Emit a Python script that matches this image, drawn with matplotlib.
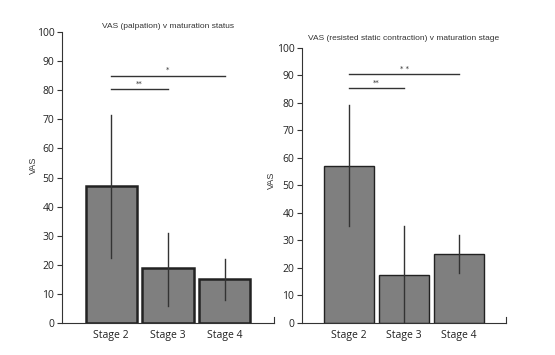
import matplotlib
matplotlib.use("Agg")
import matplotlib.pyplot as plt

categories = ["Stage 2", "Stage 3", "Stage 4"]

# Left panel: VAS (palpation)
left_means = [47, 19, 15]
left_low = [22.5, 6, 8]
left_high = [71.5, 31, 22]
left_sig = [(0, 1, 80.5, "**"), (0, 2, 85, "*")]

# Right panel: VAS (resisted static contraction)
right_means = [57, 17.5, 25]
right_low = [35, 0, 18]
right_high = [79, 35, 32]
right_sig = [(0, 1, 85.5, "**"), (0, 2, 90.3, "* *")]

yticks = list(range(0, 101, 10))

fig = plt.figure(figsize=(5.55, 3.55), dpi=100)
fig.patch.set_facecolor("white")

tick_font = "Open Sans"
title_font = ["Liberation Sans Narrow", "Liberation Sans", "DejaVu Sans"]


def panel(rect, means, low, high, sig, title, width, lw, title_y, label_xy):
    ax = fig.add_axes(rect)
    x = list(range(len(categories)))
    ax.bar(x, means, width=width, color="#7f7f7f", edgecolor="#222222",
           linewidth=lw, zorder=2)
    for xi, lo, hi in zip(x, low, high):
        ax.plot([xi, xi], [lo, hi], color="#333333", lw=1.0, zorder=3)
    for a, b, yv, txt in sig:
        ax.plot([a, b], [yv, yv], color="#333333", lw=1.0, clip_on=False)
        ax.text((a + b) / 2, yv + 1.2, txt, ha="center", va="baseline",
                fontsize=5, color="#333333", family="DejaVu Sans")
    ax.set_xlim(-0.86, 2.86)
    ax.set_ylim(0, 100)
    ax.set_yticks(yticks)
    ax.set_yticklabels([str(t) for t in yticks], family=tick_font, fontsize=7.5,
                       color="#222222")
    ax.set_xticks(x)
    ax.set_xticklabels(categories, family=tick_font, fontsize=7.5, color="#222222")
    ax.tick_params(axis="x", length=0, pad=5)
    ax.tick_params(axis="y", length=3.5, width=0.8, direction="out", pad=2,
                   color="#333333")
    ax.spines["top"].set_visible(False)
    ax.spines["right"].set_bounds(0, 2)
    for s in ax.spines.values():
        s.set_linewidth(0.8)
        s.set_color("#333333")
    ax.set_ylabel("VAS", family=title_font, fontsize=6.5, color="#333333")
    ax.yaxis.set_label_coords(*label_xy)
    ax.text(0.5 * (ax.get_xlim()[0] + ax.get_xlim()[1]), title_y, title,
            ha="center", va="center", family=title_font, fontsize=6,
            color="#333333", clip_on=False)
    return ax


panel([62 / 555, 1 - 323 / 355, 212 / 555, 291 / 355], left_means, left_low,
      left_high, left_sig, "VAS (palpation) v maturation status", 0.895, 1.8, 102,
      (-0.113, 0.543))
panel([302 / 555, 1 - 322.7 / 355, 204 / 555, 275 / 355], right_means, right_low,
      right_high, right_sig, "VAS (resisted static contraction) v maturation stage",
      0.91, 1.0, 103.5, (-0.127, 0.519))

fig.savefig("out.png", dpi=100, facecolor="white")
